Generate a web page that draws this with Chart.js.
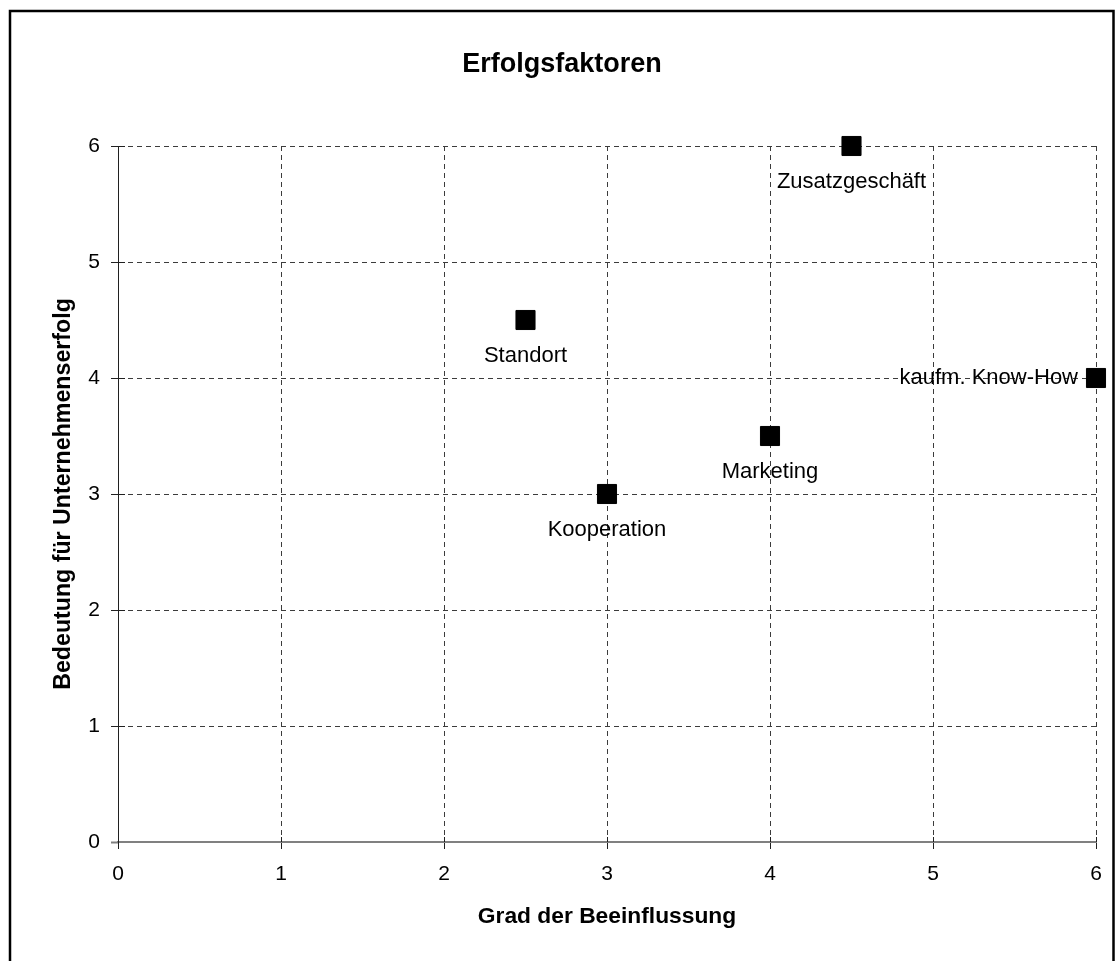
<!DOCTYPE html>
<html>
<head>
<meta charset="utf-8">
<title>Erfolgsfaktoren</title>
<script src="https://cdn.jsdelivr.net/npm/chart.js@4/dist/chart.umd.min.js"></script>
<style>
  html, body { margin: 0; padding: 0; background: #fff; overflow: hidden; }
  #wrap { width: 1117px; height: 961px; }
</style>
</head>
<body>
<div id="wrap"><canvas id="c" width="1117" height="961"></canvas></div>
<script>
// Success factors: degree of influence (x) vs. importance for business success (y)
const chartTitle  = 'Erfolgsfaktoren';
const factorNames = ['Zusatzgeschäft', 'Standort', 'kaufm. Know-How', 'Marketing', 'Kooperation'];
const influence   = [4.5, 2.5, 6, 4, 3];
const importance  = [6, 4.5, 4, 3.5, 3];
const axisTicks   = [0, 1, 2, 3, 4, 5, 6];
const labelSide   = ['below', 'below', 'left', 'below', 'below'];

const FONT = '"Liberation Sans", Arial, Helvetica, sans-serif';
const GRID = '#3c3c3c';
const AXIS_X = '#808080';
const AXIS_Y = '#202020';

// outer frame of the chart object and the centred heading
const framePlugin = {
  id: 'frame',
  beforeDraw(chart) {
    const ctx = chart.ctx;
    ctx.save();
    ctx.fillStyle = '#fff';
    ctx.fillRect(0, 0, chart.width, chart.height);
    ctx.strokeStyle = '#000';
    ctx.lineWidth = 2.5;
    ctx.strokeRect(10, 11, 1103.5, 1000);
    ctx.fillStyle = '#000';
    ctx.font = 'bold 27px ' + FONT;
    ctx.textAlign = 'center';
    ctx.textBaseline = 'middle';
    ctx.fillText(chartTitle, 562, 65);
    ctx.restore();
  }
};

// short solid tick segments on the inner side of each axis
const innerTicksPlugin = {
  id: 'innerTicks',
  afterDraw(chart) {
    const ctx = chart.ctx;
    const xs = chart.scales.x, ys = chart.scales.y;
    const area = chart.chartArea;
    ctx.save();
    ctx.lineWidth = 1;
    ctx.strokeStyle = AXIS_Y;
    xs.ticks.forEach(t => {
      if (t.value === 0) return;
      const px = Math.round(xs.getPixelForValue(t.value)) + 0.5;
      ctx.beginPath();
      ctx.moveTo(px, area.bottom - 5);
      ctx.lineTo(px, area.bottom);
      ctx.stroke();
    });
    ys.ticks.forEach(t => {
      if (t.value === 0) return;
      const py = Math.round(ys.getPixelForValue(t.value)) + 0.5;
      ctx.beginPath();
      ctx.moveTo(area.left, py);
      ctx.lineTo(area.left + 7, py);
      ctx.stroke();
    });
    ctx.restore();
  }
};

// names of the factors next to their markers
const pointLabelsPlugin = {
  id: 'pointLabels',
  afterDatasetsDraw(chart) {
    const ctx = chart.ctx;
    const meta = chart.getDatasetMeta(0);
    ctx.save();
    ctx.font = '22px ' + FONT;
    ctx.fillStyle = '#000';
    ctx.textBaseline = 'middle';
    meta.data.forEach((el, i) => {
      if (labelSide[i] === 'left') {
        ctx.textAlign = 'right';
        ctx.fillText(factorNames[i], el.x - 18, el.y);
      } else {
        ctx.textAlign = 'center';
        ctx.fillText(factorNames[i], el.x, el.y + 36);
      }
    });
    ctx.restore();
  }
};

const gridColor = c => (c.tick && c.tick.value === 0 ? 'rgba(0,0,0,0)' : GRID);

new Chart(document.getElementById('c'), {
  type: 'scatter',
  data: {
    datasets: [{
      label: chartTitle,
      data: influence.map((x, i) => ({ x: x, y: importance[i] })),
      pointStyle: 'rect',
      pointRadius: 13.5,
      pointHoverRadius: 13.5,
      backgroundColor: '#000',
      borderColor: '#000',
      borderWidth: 1,
      clip: false
    }]
  },
  plugins: [framePlugin, innerTicksPlugin, pointLabelsPlugin],
  options: {
    responsive: false,
    animation: false,
    devicePixelRatio: 1,
    layout: { padding: { left: 0, right: 21, top: 146, bottom: 0 } },
    plugins: {
      legend: { display: false },
      tooltip: { enabled: false },
      title: { display: false }
    },
    scales: {
      x: {
        type: 'linear',
        min: 0, max: 6,
        afterBuildTicks: s => { s.ticks = axisTicks.map(v => ({ value: v })); },
        afterFit: s => { s.height = 961 - 842; },
        ticks: {
          color: '#000',
          padding: 13,
          font: { family: FONT, size: 21 },
          maxRotation: 0
        },
        grid: {
          color: gridColor,
          lineWidth: 1,
          tickColor: AXIS_Y,
          tickLength: 7,
          tickBorderDash: [],
          drawTicks: true
        },
        border: { display: true, color: AXIS_X, width: 2, dash: [5, 4] },
        title: {
          display: true,
          text: 'Grad der Beeinflussung',
          color: '#000',
          font: { family: FONT, size: 22.8, weight: 'bold', lineHeight: 1.2 },
          padding: { top: 0, bottom: 30.5 }
        }
      },
      y: {
        type: 'linear',
        min: 0, max: 6,
        afterBuildTicks: s => { s.ticks = axisTicks.map(v => ({ value: v })); },
        afterFit: s => { s.width = 118; },
        ticks: {
          color: '#000',
          padding: 11,
          font: { family: FONT, size: 21 }
        },
        grid: {
          color: gridColor,
          lineWidth: 1,
          tickColor: c => (c.tick && c.tick.value === 0 ? AXIS_X : AXIS_Y),
          tickWidth: c => (c.tick && c.tick.value === 0 ? 2 : 1),
          tickLength: 7,
          tickBorderDash: [],
          drawTicks: true
        },
        border: { display: true, color: AXIS_Y, width: 1, dash: [5, 4] },
        title: {
          display: true,
          text: 'Bedeutung für Unternehmenserfolg',
          color: '#000',
          font: { family: FONT, size: 23.2, weight: 'bold', lineHeight: 1.2 },
          padding: { top: 50, bottom: 0 }
        }
      }
    }
  }
});
</script>
</body>
</html>
